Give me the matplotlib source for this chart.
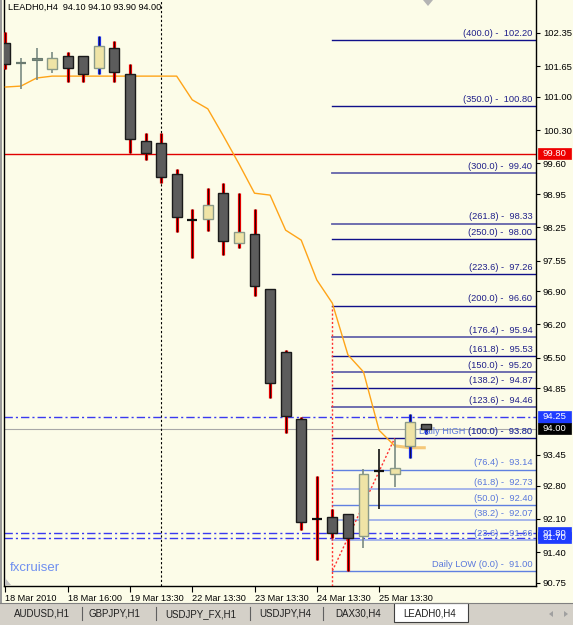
import matplotlib
matplotlib.use("Agg")
import matplotlib.pyplot as plt
from matplotlib.patches import Rectangle, Polygon
from matplotlib.transforms import blended_transform_factory
from matplotlib.lines import Line2D

# ---------------- data ----------------
symbol = "LEADH0,H4"
opens  = [102.14, 101.72, 101.82, 101.59, 101.86, 101.86, 101.61, 102.03, 101.48, 100.07,
          100.03, 99.37, 98.40, 98.43, 98.97, 97.92, 98.11, 96.95, 95.62, 94.21,
          92.10, 92.14, 92.20, 91.74, 93.11, 93.05, 93.64, 94.10]
highs  = [102.37, 101.82, 102.03, 101.95, 101.95, 101.86, 102.29, 102.18, 101.70, 100.24,
          100.24, 99.48, 98.64, 99.08, 99.19, 98.97, 98.64, 96.95, 95.66, 94.25,
          93.00, 92.31, 92.20, 93.15, 93.57, 93.78, 94.31, 94.10]
lows   = [101.59, 101.17, 101.36, 101.51, 101.32, 101.32, 101.48, 101.32, 99.82, 99.67,
          99.19, 98.15, 97.60, 98.17, 97.67, 97.81, 96.80, 94.65, 93.91, 91.86,
          91.23, 91.70, 91.00, 91.49, 92.31, 92.77, 93.38, 93.90]
closes = [101.70, 101.72, 101.78, 101.82, 101.61, 101.48, 102.08, 101.53, 100.11, 99.82,
          99.31, 98.47, 98.40, 98.72, 97.96, 98.15, 97.01, 94.97, 94.27, 92.03,
          92.10, 91.80, 91.70, 93.05, 93.11, 93.17, 94.14, 94.00]
ma_values = [101.21, 101.23, 101.40, 101.44, 101.44, 101.44, 101.44, 101.44, 101.44, 101.44,
             101.44, 101.44, 100.94, 100.75, 100.18, 99.59, 98.97, 98.93, 98.19, 97.98,
             97.14, 96.65, 95.56, 95.20, 93.97, 93.64, 93.60, 93.60]
date_labels = ["18 Mar 2010", "18 Mar 16:00", "19 Mar 13:30", "22 Mar 13:30",
               "23 Mar 13:30", "24 Mar 13:30", "25 Mar 13:30"]
price_ticks = [102.35, 101.65, 101.00, 100.30, 99.60, 98.95, 98.25, 97.55, 96.90,
               96.20, 95.50, 94.85, 93.45, 92.80, 92.10, 91.40, 90.75]
fib_levels = [123.6, 138.2, 150.0, 161.8, 176.4, 200.0, 223.6, 250.0, 261.8, 300.0, 350.0, 400.0]
fib_prices = [94.46, 94.87, 95.20, 95.53, 95.94, 96.60, 97.26, 98.00, 98.33, 99.40, 100.80, 102.20]
daily_levels = [0.0, 23.6, 38.2, 50.0, 61.8, 76.4, 100.0]
daily_prices = [91.00, 91.66, 92.07, 92.40, 92.73, 93.14, 93.80]
red_level = 99.80
blue_levels = [94.25, 91.80, 91.70]
bid = 94.00
tabs = ["AUDUSD,H1", "GBPJPY,H1", "USDJPY_FX,H1", "USDJPY,H4", "DAX30,H4", "LEADH0,H4"]

# ---------------- style ----------------
wick_kind = ["r", "g", "g", "g", "r", "r", "b", "r", "r", "r",
             "r", "r", "r", "r", "r", "r", "r", "r", "r", "r",
             "r", "r", "r", "g", "k", "g", "b", "b"]
light_fib = [True, False, True, False, True, False, False, False, True, True, False, False]
light_daily = [False, True, True, False, True, False, False]

BG = "#fcfce8"
W, H = 573, 625
fig = plt.figure(figsize=(W / 100, H / 100), dpi=100, facecolor=BG)
plt.rcParams['font.family'] = ['Liberation Sans', 'DejaVu Sans']

ax = fig.add_axes([4 / W, 39 / H, 532 / W, 586 / H])
ax.set_facecolor(BG)
ax.set_xlim(-0.09, 34.08)
ax.set_ylim(90.683, 103.046)
ax.spines['top'].set_visible(False)
for s in ['left', 'bottom', 'right']:
    ax.spines[s].set_color('black')
    ax.spines[s].set_linewidth(1)

n = len(opens)
xs = list(range(n))

# horizontal lines
ax.axhline(red_level, color="#e00000", lw=1, zorder=2)
ax.axhline(bid, color="#a8a8a8", lw=0.8, zorder=2)
for b in blue_levels:
    ax.axhline(b, color="#3a3af0", lw=1, ls=(0, (6, 2.2, 1.5, 2.2)), zorder=2)
ax.axvline(10, color="black", lw=0.8, ls=(0, (2, 2)), zorder=2)

xr = ax.get_xlim()[1]
x0 = 21
# fib (upper)
for lvl, p, lt in zip(fib_levels, fib_prices, light_fib):
    ax.plot([x0, xr], [p, p], color="#6464aa" if lt else "#10108a", lw=1.3 if lt else 1.0, zorder=2)
    ax.annotate(f"({lvl:.1f}) -  {p:.2f}", xy=(33.85, p), xytext=(0, 1.5), textcoords="offset points",
                ha="right", va="bottom", fontsize=6.7, color="#20208a", zorder=5)
# daily fib
for lvl, p, lt in zip(daily_levels, daily_prices, light_daily):
    if lvl == 100.0:
        ax.plot([x0, xr], [p, p], color="#10108a", lw=1.0, zorder=2)
        ax.annotate(f"Daily HIGH ({lvl:.1f}) -  {p:.2f}", xy=(33.85, p), xytext=(0, 1.5),
                    textcoords="offset points", ha="right", va="bottom", fontsize=6.7,
                    color="#5a78dc", zorder=5)
        ax.annotate(f"({lvl:.1f}) -  {p:.2f}", xy=(33.85, p), xytext=(0, 1.5),
                    textcoords="offset points", ha="right", va="bottom", fontsize=6.7,
                    color="#3a3a90", zorder=6)
        continue
    ax.plot([x0, xr], [p, p], color="#9fb0ea" if lt else "#5f80e0", lw=1.3 if lt else 1.0, zorder=2)
    txt = f"({lvl:.1f}) -  {p:.2f}" if lvl > 0 else f"Daily LOW ({lvl:.1f}) -  {p:.2f}"
    ax.annotate(txt, xy=(33.85, p), xytext=(0, 1.5), textcoords="offset points",
                ha="right", va="bottom", fontsize=6.7, color="#5a78dc", zorder=5)

# red dotted fib anchors
ax.plot([x0, x0], [ax.get_ylim()[0], fib_prices[fib_levels.index(200.0)]],
        color="#ff3030", lw=1, ls=(0, (1.5, 1.5)), zorder=3)
ax.plot([x0, 25], [daily_prices[0], daily_prices[-1]], color="#ff3030", lw=1,
        ls=(0, (1.5, 1.5)), zorder=3)

# moving average
ax.plot(xs[:26], ma_values[:26], color="#ffa418", lw=1.0, zorder=3)
ax.plot(xs[25:], ma_values[25:], color="#f5c878", lw=2.2, zorder=3, solid_capstyle="butt")

# candles
bw = 0.64
wick_cols = {"r": "#e00000", "b": "#1a2ce0", "g": "#7a8a82", "k": "#101010"}
for i, (o, h, l, c, k) in enumerate(zip(opens, highs, lows, closes, wick_kind)):
    if k in ("r", "b"):
        ax.plot([i, i], [l, h], color=wick_cols[k], lw=2.3, zorder=4, solid_capstyle="butt")
        ax.plot([i, i], [l, h], color="#300000" if k == "r" else "#101050", lw=0.7, zorder=4,
                solid_capstyle="butt")
    else:
        ax.plot([i, i], [l, h], color=wick_cols[k], lw=1.2, zorder=4, solid_capstyle="butt")
    if abs(c - o) < 0.02:
        col = "#101010" if k in ("r", "k") else "#6a7a70"
        ax.plot([i - bw / 2, i + bw / 2], [o, o], color=col, lw=1.6, zorder=5, solid_capstyle="butt")
    elif abs(c - o) < 0.06:
        ax.add_patch(Rectangle((i - bw / 2, min(o, c)), bw, abs(c - o), facecolor="#7a8c80",
                               edgecolor="#6a7a70", lw=0.8, zorder=5))
    elif c > o:
        ax.add_patch(Rectangle((i - bw / 2, o), bw, c - o, facecolor="#efe4a6",
                               edgecolor="#8a9a88", lw=1.0, zorder=5))
    else:
        ax.add_patch(Rectangle((i - bw / 2, c), bw, o - c, facecolor="#5c5c5c",
                               edgecolor="#1a1a1a", lw=1.0, zorder=5))

# axes ticks
ax.yaxis.tick_right()
ax.set_yticks(price_ticks)
ax.set_yticklabels([f"{v:.2f}" for v in price_ticks])
ax.tick_params(axis='y', direction='out', length=3, width=0.8, pad=2, labelsize=6.8, colors='black')
ax.set_xticks(list(range(0, 4 * len(date_labels), 4)))
ax.set_xticklabels(date_labels)
ax.tick_params(axis='x', direction='out', length=4, width=0.8, pad=1.5, labelsize=6.6)
for t in ax.get_xticklabels():
    t.set_ha('left')

# price boxes on axis
bt = blended_transform_factory(fig.transFigure, ax.transData)
def price_box(p, fc, tc="white"):
    hh = 0.118
    fig.add_artist(Rectangle((537.5 / W, p - hh), 33 / W, 2 * hh, transform=bt,
                             facecolor=fc, edgecolor=fc, lw=0.5, zorder=10))
    fig.text(554 / W, p, f"{p:.2f}", transform=bt, ha="center", va="center",
             fontsize=6.8, color=tc, zorder=11)
price_box(red_level, "#ee0000")
price_box(blue_levels[1], "#1e3cff")
price_box(blue_levels[2], "#1e3cff")
price_box(blue_levels[0], "#1e3cff")
price_box(bid, "#000000")

# header
fig.text(8 / W, 1 - 7.5 / H,
         f"{symbol}  {opens[-1]:.2f} {highs[-1]:.2f} {lows[-1]:.2f} {closes[-1]:.2f}",
         fontsize=6.6, color="black", va="center", ha="left")
fig.text(10 / W, 1 - 568 / H, "fxcruiser", fontsize=9.5, color="#6f8ff0", va="center", ha="left")

# chart-shift marker
fig.add_artist(Polygon([[423 / W, 1], [433 / W, 1], [428 / W, 1 - 6 / H]], closed=True,
                       facecolor="#b4b4b4", edgecolor="none", transform=fig.transFigure))
fig.add_artist(Polygon([[5 / W, 1 - 578 / H], [5 / W, 1 - 585 / H], [11 / W, 1 - 585 / H]], closed=True,
                       facecolor="#c0c0c0", edgecolor="none", transform=fig.transFigure))

# window border left
fig.add_artist(Rectangle((0, 1 - 603 / H), 2 / W, 603 / H, transform=fig.transFigure,
                         facecolor="#9a9a9a", edgecolor="none"))

# tab bar
fig.add_artist(Rectangle((0, 0), 1, 22 / H, transform=fig.transFigure,
                         facecolor="#d4d0c8", edgecolor="none"))
fig.add_artist(Line2D([0, 1], [22 / H, 22 / H], transform=fig.transFigure, color="#808080", lw=0.8))
fig.add_artist(Rectangle((394 / W, 3 / H), 74 / W, 19 / H, transform=fig.transFigure,
                         facecolor="white", edgecolor="#404040", lw=0.8))
tab_centers = [42, 114, 201, 285, 358, 430]
for t, cx in zip(tabs, tab_centers):
    fig.text(cx / W, 11 / H, t, fontsize=7, color="#202020", ha="center", va="center")
for sx in [82, 156, 250, 323]:
    fig.add_artist(Line2D([sx / W, sx / W], [5 / H, 18 / H], transform=fig.transFigure,
                          color="#606060", lw=0.8))
fig.add_artist(Polygon([[549 / W, 11 / H], [553 / W, 14 / H], [553 / W, 8 / H]],
                       facecolor="#a0a0a0", edgecolor="none", transform=fig.transFigure))
fig.add_artist(Polygon([[568 / W, 11 / H], [564 / W, 14 / H], [564 / W, 8 / H]],
                       facecolor="#a0a0a0", edgecolor="none", transform=fig.transFigure))

fig.savefig("out.png", dpi=100, facecolor=BG)
